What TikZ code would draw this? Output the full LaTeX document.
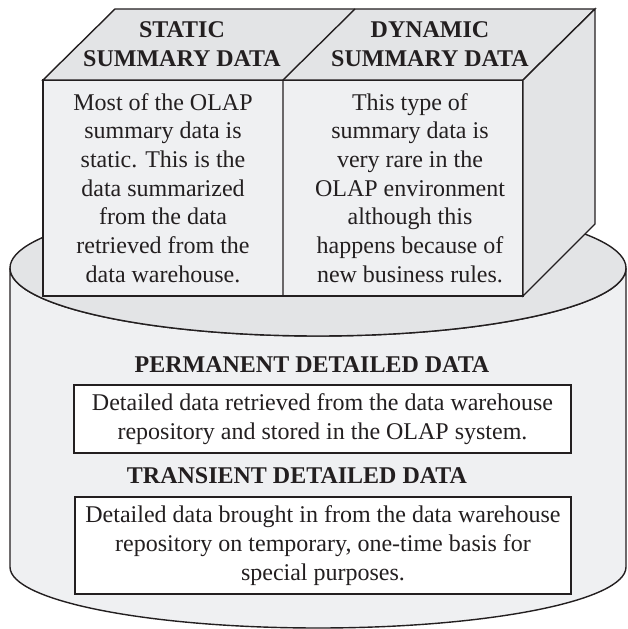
\documentclass[tikz,border=0pt]{standalone}
\usepackage{fontspec}
\setmainfont{Liberation Serif}
\definecolor{ink}{HTML}{231F20}
\definecolor{facelight}{HTML}{EFF0F2}
\definecolor{facedark}{HTML}{E3E4E6}
\begin{document}
\begin{tikzpicture}[x=1pt,y=1pt,
  outline/.style={draw=ink,line width=1.4pt,line join=miter},
  txt/.style={text=ink,align=center,inner sep=0pt,font=\fontsize{24}{28.7}\selectfont},
  ttl/.style={txt,font=\fontsize{24}{28.7}\selectfont\bfseries},
  infobox/.style={txt,draw=ink,line width=1.4pt,fill=white}]
\useasboundingbox (0,0) rectangle (627,629);
% cylinder body
\path[outline,fill=facelight] (10,361) -- (10,62)
  arc[start angle=180,end angle=360,x radius=308pt,y radius=61pt]
  -- (626,361)
  arc[start angle=0,end angle=-180,x radius=308pt,y radius=68pt] -- cycle;
% cylinder top
\path[outline,fill=facedark] (318,361) ellipse [x radius=308pt,y radius=68pt];
% cube faces
\path[outline,fill=facelight] (43,333) rectangle (523,549);
\path[outline,fill=facedark] (43,549) -- (115,620) -- (595,620) -- (523,549) -- cycle;
\path[outline,fill=facedark] (523,549) -- (595,620) -- (595,405) -- (523,333) -- cycle;
\draw[outline] (283,333) -- (283,549) -- (355,620);
% cube texts
\node[ttl] (sTitle) at (182,585) {STATIC\\SUMMARY DATA};
\node[ttl] (dTitle) at (430,585) {DYNAMIC\\SUMMARY DATA};
\node[txt] (sText) at (163,441) {Most of the OLAP\\summary data is\\static. This is the\\data summarized\\from the data\\retrieved from the\\data warehouse.};
\node[txt] (dText) at (410,441) {This type of\\summary data is\\very rare in the\\OLAP environment\\although this\\happens because of\\new business rules.};
% detailed data
\node[ttl] (pTitle) at (312,264) {PERMANENT DETAILED DATA};
\node[infobox,minimum width=497pt,minimum height=68pt] (pBox) at (322.5,210)
  {Detailed data retrieved from the data warehouse\\repository and stored in the OLAP system.};
\node[ttl] (tTitle) at (297,153) {TRANSIENT DETAILED DATA};
\node[infobox,minimum width=496pt,minimum height=97pt] (tBox) at (323,83.5)
  {Detailed data brought in from the data warehouse\\repository on temporary, one-time basis for\\special purposes.};
\end{tikzpicture}
\end{document}
